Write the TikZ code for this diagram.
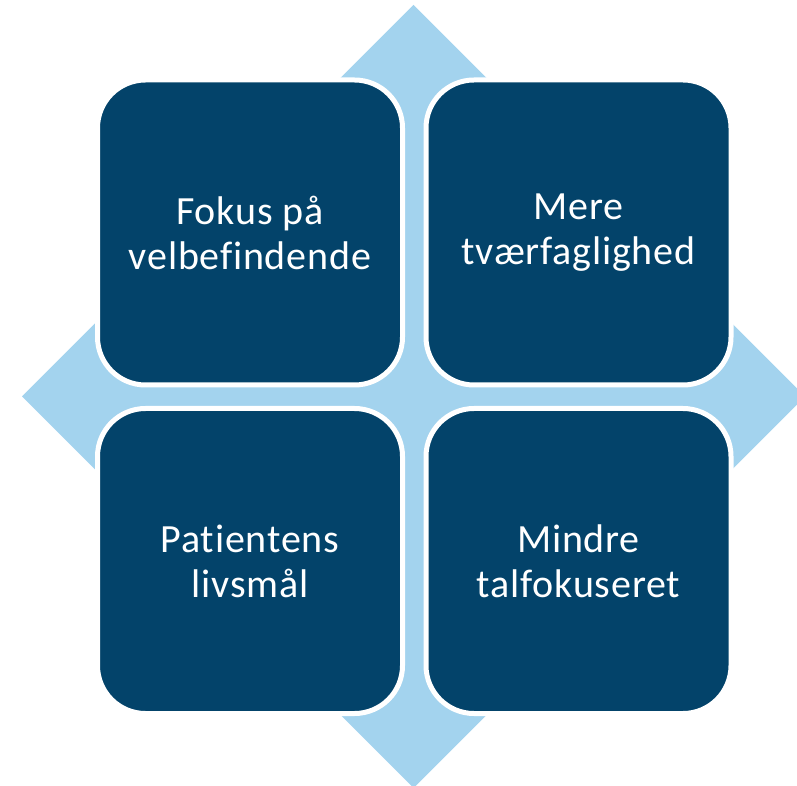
\documentclass[tikz,border=0pt]{standalone}
\usepackage{fontspec}
\setmainfont{Carlito}[Ligatures=CommonOff, LetterSpace=2]
\usepackage{xcolor}
\usepackage{tikz}
\usetikzlibrary{shapes.geometric, positioning}
\definecolor{tileblue}{HTML}{03436A}
\definecolor{crossblue}{HTML}{A3D3EE}
\tikzset{
  tile/.style={rectangle, rounded corners=48pt, draw=white, line width=5pt, fill=tileblue, text=white, minimum width=305pt, minimum height=305pt, outer sep=0pt, inner sep=0pt, align=center, font=\fontsize{40}{45}\selectfont},
  cross/.style={diamond, aspect=1, fill=crossblue, minimum width=783pt, minimum height=783pt, inner sep=0pt, outer sep=0pt},
}

\begin{document}
\begin{tikzpicture}[x=1pt, y=1pt, node distance=23.5pt and 23.5pt]
\clip (0,0) rectangle (797,785);
% light blue cross behind the four tiles
\node[cross] (kors) at (413.5,388.5) {};
\node[tile] (fokus) at (250,552.5) {Fokus på\\velbefindende};
\node[tile, right=of fokus] (mere) {Mere\\tværfaglighed};
\node[tile, below=of fokus] (patient) {Patientens\\livsmål};
\node[tile, below=of mere] (mindre) {Mindre\\talfokuseret};
\end{tikzpicture}
\end{document}
